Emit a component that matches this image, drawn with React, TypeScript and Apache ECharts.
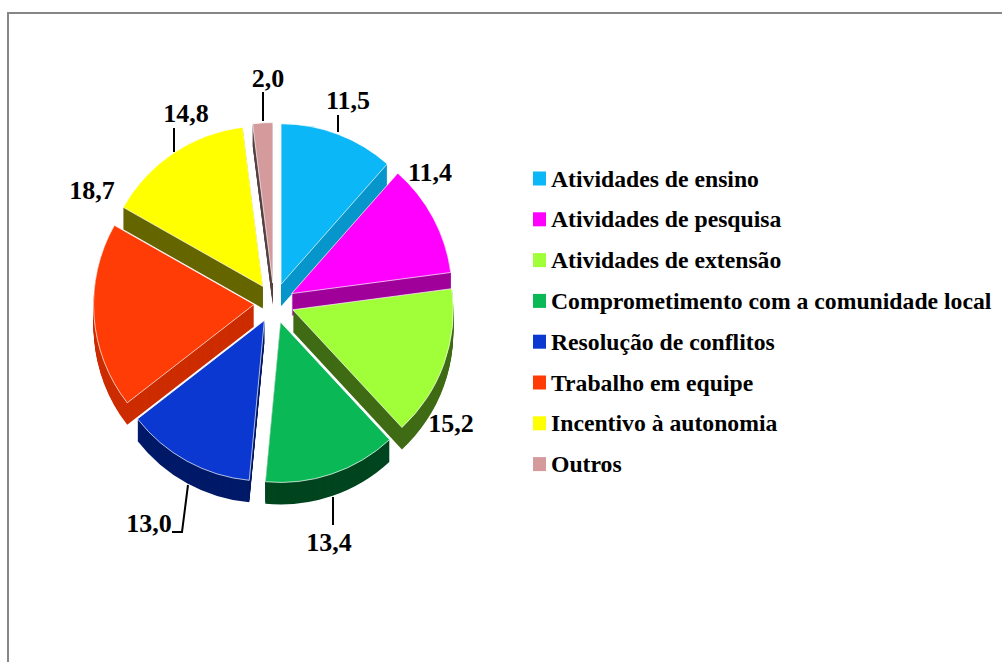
import React, { useEffect, useRef } from "react";
import * as echarts from "echarts";

const categories = [
  "Atividades de ensino",
  "Atividades de pesquisa",
  "Atividades de extensão",
  "Comprometimento com a comunidade local",
  "Resolução de conflitos",
  "Trabalho em equipe",
  "Incentivo à autonomia",
  "Outros",
];
const values = [11.5, 11.4, 15.2, 13.4, 13.0, 18.7, 14.8, 2.0];
const valueLabels = ["11,5", "11,4", "15,2", "13,4", "13,0", "18,7", "14,8", "2,0"];
const faceColors = ["#0bb7f6", "#ff00ff", "#a0ff38", "#0bb856", "#0a38d0", "#ff3c06", "#ffff00", "#d49a9c"];
const wallColors = ["#0696cb", "#a0009a", "#3f6b14", "#00451f", "#001a68", "#cc2c00", "#666600", "#5a4242"];

const labelCenters: number[][] = [[348, 100], [430, 172], [451, 423], [329, 542], [149, 523], [92, 190], [186, 113], [268, 78]];
const leaderLines: (number[][] | null)[] = [
  [[338, 132], [338, 115]],
  null,
  null,
  [[333, 497], [333, 525]],
  [[188, 485], [182, 532], [172, 532]],
  null,
  [[174, 152], [174, 128]],
  [[263, 121], [263, 92]],
];

const CENTER_X = 274;
const CENTER_Y = 303;
const RADIUS = 160.5;
const OFFSET = 20;
const DEPTH = 22;

export default function App() {
  const ref = useRef<HTMLDivElement>(null);
  useEffect(() => {
    const chart = echarts.init(ref.current!, undefined, { renderer: "svg" });
    const basePie = {
      type: "pie" as const,
      radius: [0, RADIUS],
      startAngle: 90,
      clockwise: true,
      selectedMode: "multiple" as const,
      selectedOffset: OFFSET,
      avoidLabelOverlap: false,
      silent: true,
      emphasis: { disabled: true },
      label: { show: false },
      labelLine: { show: false },
    };
    const walls = Array.from({ length: DEPTH }, (_, k) => ({
      ...basePie,
      name: "parede" + k,
      center: [CENTER_X, CENTER_Y + DEPTH - k],
      z: 2 + k / 100,
      data: categories.map((name, i) => ({
        name,
        value: values[i],
        selected: true,
        itemStyle: { color: wallColors[i] },
        select: { itemStyle: { color: wallColors[i], borderWidth: 0 } },
      })),
    }));
    const labelGraphics = valueLabels.map((text, i) => ({
      type: "text",
      silent: true,
      z: 10,
      x: labelCenters[i][0],
      y: labelCenters[i][1],
      style: {
        text,
        fill: "#000000",
        font: "bold 26px 'Liberation Serif'",
        align: "center",
        verticalAlign: "middle",
      },
    }));
    const leaderGraphics = leaderLines.flatMap((points) =>
      points
        ? [{
            type: "polyline",
            silent: true,
            z: 10,
            shape: { points },
            style: { stroke: "#000000", lineWidth: 2, fill: "none" },
          }]
        : []
    );
    chart.setOption({
      animation: false,
      backgroundColor: "#ffffff",
      graphic: [
        { type: "line", silent: true, shape: { x1: 8, y1: 13, x2: 1002, y2: 13 }, style: { stroke: "#868686", lineWidth: 2 } },
        { type: "line", silent: true, shape: { x1: 8, y1: 12, x2: 8, y2: 662 }, style: { stroke: "#868686", lineWidth: 2 } },
        ...leaderGraphics,
        ...labelGraphics,
      ],
      legend: {
        orient: "vertical",
        left: 533,
        top: 166,
        itemWidth: 13,
        itemHeight: 14,
        itemGap: 15.8,
        selectedMode: false,
        padding: 0,
        icon: "rect",
        data: categories,
        textStyle: {
          fontFamily: "Liberation Serif",
          fontWeight: "bold",
          fontSize: 23.7,
          color: "#000000",
          lineHeight: 25,
          padding: [0, 0, 0, 0],
        },
      },
      series: [
        {
          ...basePie,
          name: "Atividades",
          center: [CENTER_X, CENTER_Y],
          z: 4,
          data: categories.map((name, i) => ({
            name,
            value: values[i],
            selected: true,
            itemStyle: { color: faceColors[i] },
            select: { itemStyle: { color: faceColors[i], borderColor: "#ffffff", borderWidth: 0.7 } },
          })),
        },
        ...walls,
      ],
    });
    return () => chart.dispose();
  }, []);
  return <div ref={ref} style={{ position: "fixed", left: 0, top: 0, width: 1002, height: 662 }} />;
}
